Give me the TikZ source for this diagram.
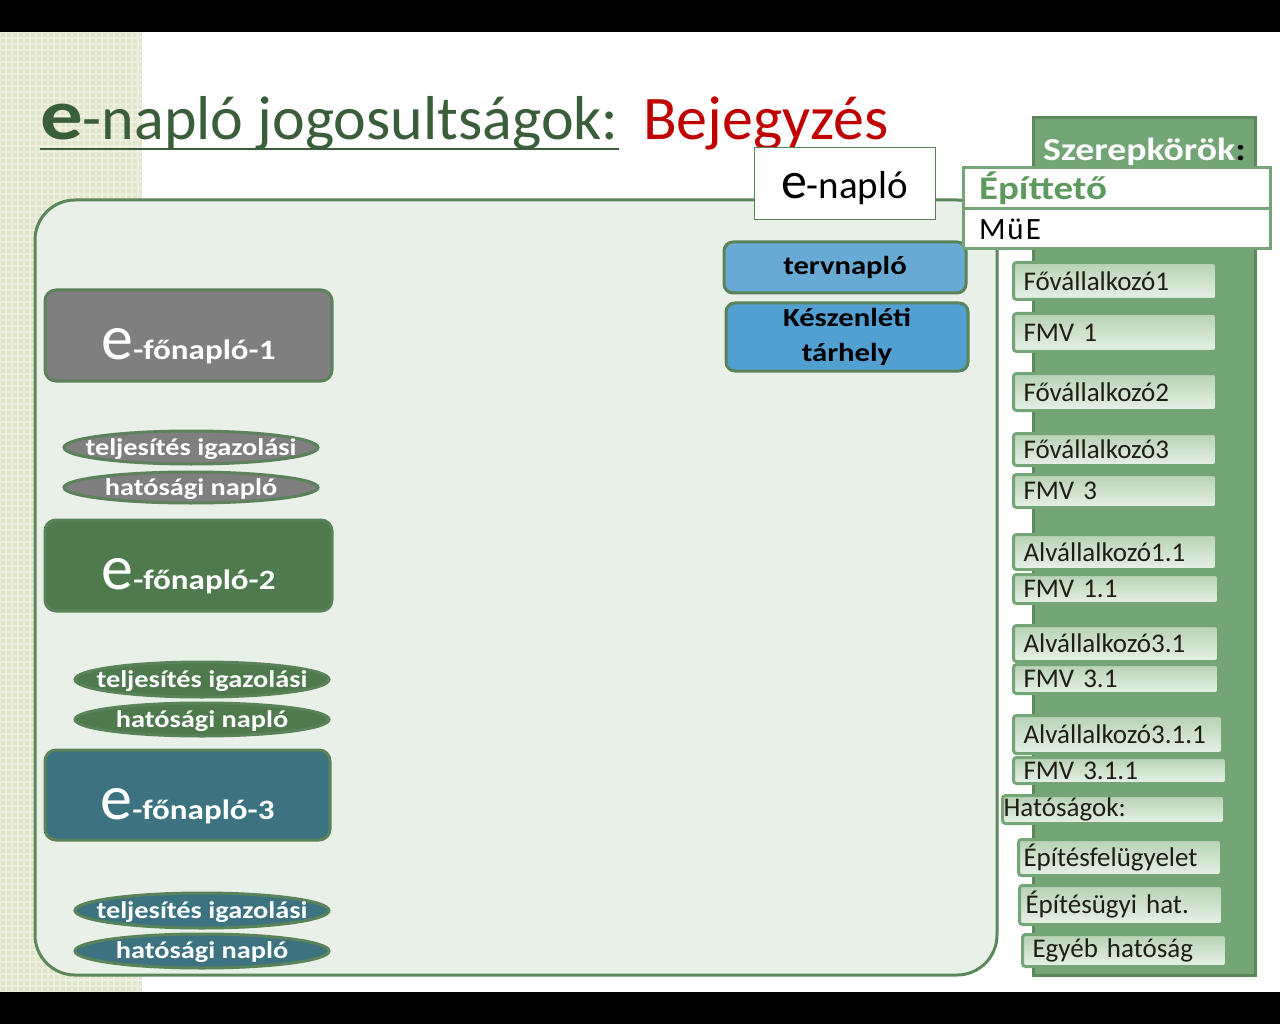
\documentclass[tikz,border=0pt]{standalone}
\usepackage{fontspec}
\setmainfont{Carlito}[BoldFeatures={FakeStretch=1.18}]
\usetikzlibrary{shapes.geometric}
\definecolor{titlegreen}{HTML}{3A5E3A}
\definecolor{titlered}{HTML}{C00000}
\definecolor{mainfill}{HTML}{E8F0E7}
\definecolor{mainline}{HTML}{5B875A}
\definecolor{nodeline}{HTML}{5A8359}
\definecolor{greyfill}{HTML}{7F7F7F}
\definecolor{greenfill}{HTML}{4E7A4E}
\definecolor{tealfill}{HTML}{3D7381}
\definecolor{blueA}{HTML}{69AAD5}
\definecolor{blueB}{HTML}{529FD1}
\definecolor{panelfill}{HTML}{74A577}
\definecolor{panelline}{HTML}{5A8A5A}
\definecolor{striptex}{HTML}{E0E6CB}
\definecolor{stripline}{HTML}{EDF0DF}
\definecolor{boxtop}{HTML}{B7D1B5}
\definecolor{boxbot}{HTML}{E7F1E6}
\definecolor{boxtext}{HTML}{1E1E14}
\definecolor{epgreen}{HTML}{5E9A60}
\newcommand\rbx[7]{%
  \node[rbox, anchor=north west, minimum width={#3-#2}, minimum height={#5-#4},
        text width={#3-#2}, inner xsep=0pt, align=left] (#1) at (#2,#4)
        {\hspace*{#7pt}#6};}
\newcommand\wsp{\hspace{9pt}}
\newcommand\pillnode[6]{%
  \node[pill, fill=#2, minimum width=254pt, minimum height=#5pt] (#1) at (#3,#4) {};
  \node[pilltext] (#1t) at ([yshift=-1.5pt]#1.center) {#6};}
\tikzset{
  fbox/.style={draw=nodeline, line width=3pt, rounded corners=11pt, inner sep=0pt},
  flabel/.style={anchor=base, inner sep=0pt, text=white, font=\fontsize{28}{30}\selectfont\bfseries},
  pill/.style={ellipse, draw=nodeline, line width=3pt, inner sep=0pt},
  pilltext/.style={inner sep=0pt, text=white, font=\fontsize{24}{26}\selectfont\bfseries},
  bluebox/.style={draw=nodeline, line width=3pt, rounded corners=9pt, text=black, inner sep=0pt,
    font=\fontsize{26}{35}\selectfont\bfseries, align=center},
  rbox/.style={draw=panelfill, line width=3pt, rounded corners=3pt, top color=boxtop,
    bottom color=boxbot, text=boxtext, font=\fontsize{27}{29}\selectfont, inner ysep=0pt},
  rolebox/.style={draw=panelfill, line width=3pt, fill=white, inner sep=0pt,
    minimum width=307pt, text width=275pt, align=left}
}
\newcommand\bige[1]{{\fontsize{#1}{#1}\selectfont\mdseries e}}
\begin{document}
\begin{tikzpicture}[x=1pt,y=-1pt]
\useasboundingbox (0,0) rectangle (1280,1024);
% background
\fill[white] (0,0) rectangle (1280,1024);
\fill[striptex] (0,32) rectangle (142,992);
\begin{scope}
\clip (0,32) rectangle (142,992);
\foreach \gx in {0,6,...,144} {\draw[stripline, line width=2pt] (\gx,32) -- (\gx,992);}
\foreach \gy in {32,38,...,992} {\draw[stripline, line width=2pt] (0,\gy) -- (142,\gy);}
\end{scope}
\fill[black] (0,0) rectangle (1280,32);
\fill[black] (0,992) rectangle (1280,1024);
% title
\node[anchor=base west, inner sep=0pt, text=titlegreen, font=\fontsize{62}{64}\selectfont] (t1) at (40,140)
  {{\fontsize{72}{72}\selectfont\bfseries e}-napló jogosultságok:};
\draw[titlegreen, line width=2.5pt] ([yshift=-9pt]t1.base west) -- ([yshift=-9pt]t1.base east);
\node[anchor=base west, inner sep=0pt, text=titlered, font=\fontsize{62}{64}\selectfont] (t2) at (643,140) {Bejegyzés};
% main rounded box
\draw[mainline, fill=mainfill, line width=3pt, rounded corners=40pt] (35,200) rectangle (997,975);
% right panel
\draw[panelline, fill=panelfill, line width=3pt] (1033,118) rectangle (1255,975);
\node[anchor=base west, inner sep=0pt, text=white, font=\fontsize{32}{32}\selectfont\bfseries] (sz) at (1043,161)
  {Szerepkörök\textcolor{black}{:}};
% e-naplo box
\node[draw=nodeline, line width=1pt, fill=white, minimum width=181pt, minimum height=72pt, inner sep=0pt] (en) at (844.5,184) {};
\node[anchor=base, inner sep=0pt, font=\fontsize{39}{40}\selectfont] (ent) at ([yshift=-15pt]en.center) {\bige{52}-napló};
% blue boxes
\node[bluebox, fill=blueA, minimum width=242pt, minimum height=51pt] (terv) at (845,267.5) {tervnapló};
\node[bluebox, fill=blueB, minimum width=242pt, minimum height=68pt] (kesz) at (847,337) {Készenléti\\tárhely};
% fonaplo boxes
\node[fbox, fill=greyfill, minimum width=287pt, minimum height=91pt] (f1) at (188.5,335.5) {};
\node[flabel] (f1t) at ([yshift=-24pt]f1.center) {\bige{64}-főnapló-1};
\node[fbox, fill=greenfill, minimum width=287pt, minimum height=91pt] (f2) at (188.5,565.5) {};
\node[flabel] (f2t) at ([yshift=-24pt]f2.center) {\bige{64}-főnapló-2};
\node[fbox, fill=tealfill, minimum width=285pt, minimum height=90pt] (f3) at (187.5,795) {};
\node[flabel] (f3t) at ([yshift=-24pt]f3.center) {\bige{64}-főnapló-3};
% pills
\pillnode{p1a}{greyfill}{191}{447.5}{33}{teljesítés igazolási}
\pillnode{p1b}{greyfill}{191}{487.5}{31}{hatósági napló}
\pillnode{p2a}{greenfill}{202}{679.5}{35}{teljesítés igazolási}
\pillnode{p2b}{greenfill}{202}{719.5}{33}{hatósági napló}
\pillnode{p3a}{tealfill}{202}{910.5}{35}{teljesítés igazolási}
\pillnode{p3b}{tealfill}{202}{951}{34}{hatósági napló}
% role boxes
\node[rolebox, minimum height=41pt, text=epgreen, font=\fontsize{33}{33}\selectfont\bfseries] (ep) at (1116.5,188.5) {Építtető};
\node[rolebox, minimum height=40pt, text=black, font=\fontsize{31}{31}\selectfont] (mue) at (1116.5,229) {M\kern2pt\relax ü\kern2pt\relax E};
% right small boxes
\rbx{r1}{1012}{1215}{261}{298}{Fővállalkozó1}{10}
\rbx{r2}{1012}{1215}{312}{350}{FMV\wsp 1}{10}
\rbx{r3}{1012}{1215}{372}{409}{Fővállalkozó2}{10}
\rbx{r4}{1012}{1215}{432}{464}{Fővállalkozó3}{10}
\rbx{r5}{1012}{1215}{473}{506}{FMV\wsp 3}{10}
\rbx{r6}{1012}{1215}{533}{568}{Alvállalkozó1.1}{10}
\rbx{r7}{1012}{1217}{573}{602}{FMV\wsp 1.1}{10}
\rbx{r8}{1012}{1217}{624}{660}{Alvállalkozó3.1}{10}
\rbx{r9}{1012}{1217}{663}{692}{FMV\wsp 3.1}{10}
\rbx{r10}{1012}{1221}{714}{752}{Alvállalkozó3.1.1}{10}
\rbx{r11}{1012}{1225}{756}{782}{FMV\wsp 3.1.1}{10}
\rbx{r12}{1001}{1223}{794}{822}{Hatóságok:}{1}
\rbx{r13}{1017}{1220}{838}{874}{Építésfelügyelet}{5}
\rbx{r14}{1018}{1221}{884}{923}{Építésügyi\wsp hat.}{6}
\rbx{r15}{1021}{1225}{933}{965}{Egyéb\wsp hatóság}{10}
\end{tikzpicture}
\end{document}
